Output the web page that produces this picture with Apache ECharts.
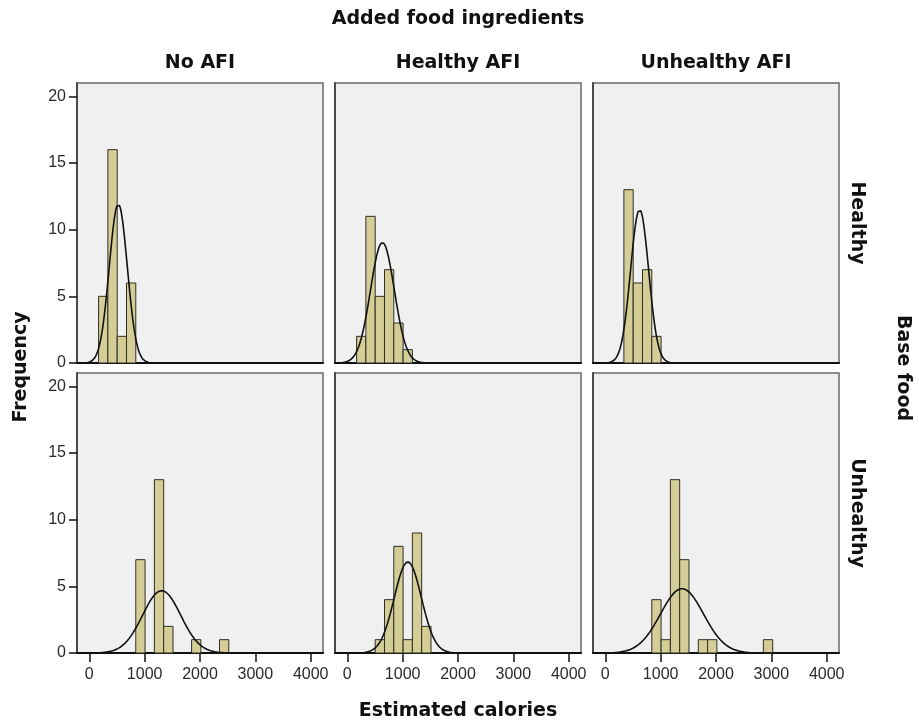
<!DOCTYPE html>
<html><head><meta charset="utf-8">
<script src="https://cdn.jsdelivr.net/npm/echarts@6/dist/echarts.min.js"></script>
<style>html,body{margin:0;padding:0;background:#fff}#c{width:919px;height:727px}</style>
</head><body><div id="c"></div>
<script>
// ---- data ----
const mainTitle = 'Added food ingredients';
const colHeaders = ['No AFI', 'Healthy AFI', 'Unhealthy AFI'];
const rowTitle = 'Base food';
const rowHeaders = ['Healthy', 'Unhealthy'];
const xTitle = 'Estimated calories';
const yTitle = 'Frequency';
const xTickValues = [0, 1000, 2000, 3000, 4000];
const yTickValues = [0, 5, 10, 15, 20];
const binWidth = 168;

// row Healthy base food
const binsHealthyNo = [168, 336, 504, 672];
const countsHealthyNo = [5, 16, 2, 6];
const binsHealthyHealthy = [168, 336, 504, 672, 840, 1008];
const countsHealthyHealthy = [2, 11, 5, 7, 3, 1];
const binsHealthyUnhealthy = [336, 504, 672, 840];
const countsHealthyUnhealthy = [13, 6, 7, 2];
// row Unhealthy base food
const binsUnhealthyNo = [840, 1176, 1344, 1848, 2352];
const countsUnhealthyNo = [7, 13, 2, 1, 1];
const binsUnhealthyHealthy = [504, 672, 840, 1008, 1176, 1344];
const countsUnhealthyHealthy = [1, 4, 8, 1, 9, 2];
const binsUnhealthyUnhealthy = [840, 1008, 1176, 1344, 1680, 1848, 2856];
const countsUnhealthyUnhealthy = [4, 1, 13, 7, 1, 1, 1];

// fitted normal curve parameters (mean, sd) per panel
const curveMeans = [524, 635, 620, 1307, 1094, 1386];
const curveSDs = [163, 215, 163, 344, 245, 389];

// ---- build ----
const panelBins = [binsHealthyNo, binsHealthyHealthy, binsHealthyUnhealthy,
                   binsUnhealthyNo, binsUnhealthyHealthy, binsUnhealthyUnhealthy];
const panelCounts = [countsHealthyNo, countsHealthyHealthy, countsHealthyUnhealthy,
                     countsUnhealthyNo, countsUnhealthyHealthy, countsUnhealthyUnhealthy];

const X_MIN = -222, X_MAX = 4222, Y_MAX = 21;
const colLeft = [77, 335, 593];
const rowTop = [83, 373];
const W = 246, H = 280;

const grids = [], xAxes = [], yAxes = [], series = [];
const tickFont = {fontFamily: '"Liberation Sans", Arial, sans-serif', fontSize: 16, color: '#2a2a2a'};

for (let r = 0; r < 2; r++) {
  for (let c = 0; c < 3; c++) {
    const i = r * 3 + c;
    grids.push({left: colLeft[c], top: rowTop[r], width: W, height: H, show: true,
      backgroundColor: '#f0f0f0', borderColor: '#6a6a6a', borderWidth: 1.5});
    xAxes.push({type: 'value', gridIndex: i, min: X_MIN, max: X_MAX,
      axisLine: {show: true, onZero: false, lineStyle: {color: '#111', width: 2}},
      axisTick: {show: r === 1, length: 9, customValues: xTickValues, lineStyle: {color: '#111', width: 1.5}},
      axisLabel: Object.assign({show: r === 1, margin: 14, customValues: xTickValues,
        formatter: v => String(v)}, tickFont),
      splitLine: {show: false}});
    yAxes.push({type: 'value', gridIndex: i, min: 0, max: Y_MAX,
      axisLine: {show: true, onZero: false, lineStyle: {color: '#4a4a4a', width: 2}},
      axisTick: {show: c === 0, length: 8, customValues: yTickValues, lineStyle: {color: '#111', width: 1.5}},
      axisLabel: Object.assign({show: c === 0, margin: 11, customValues: yTickValues,
        formatter: v => String(v)}, tickFont),
      splitLine: {show: false}});

    const bins = panelBins[i], counts = panelCounts[i];
    const barData = bins.map((b, k) => [b, b + binWidth, counts[k]]);
    series.push({type: 'custom', xAxisIndex: i, yAxisIndex: i, z: 2,
      data: barData, encode: {x: [0, 1], y: 2},
      renderItem: function (params, api) {
        const p0 = api.coord([api.value(0), 0]);
        const p1 = api.coord([api.value(1), api.value(2)]);
        return {type: 'rect',
          shape: {x: p0[0], y: p1[1], width: p1[0] - p0[0], height: p0[1] - p1[1]},
          style: {fill: '#d4cd96', stroke: '#2e2e26', lineWidth: 1}};
      }});

    const n = counts.reduce((a, b) => a + b, 0);
    const mu = curveMeans[i], sd = curveSDs[i];
    const amp = n * binWidth / (sd * Math.sqrt(2 * Math.PI));
    const curve = [];
    for (let x = X_MIN; x <= X_MAX; x += 8) {
      curve.push([x, amp * Math.exp(-0.5 * Math.pow((x - mu) / sd, 2))]);
    }
    series.push({type: 'line', xAxisIndex: i, yAxisIndex: i, z: 3, data: curve,
      showSymbol: false, symbol: 'none', silent: true,
      lineStyle: {color: '#111', width: 1.6}});
  }
}

const titleFont = {fontFamily: '"DejaVu Sans", Verdana, sans-serif', fontWeight: 'bold', fontSize: 19, fill: '#111'};
const graphic = [];
function addText(text, x, y, rotation) {
  graphic.push({type: 'text', x: x, y: y, rotation: rotation || 0,
    style: Object.assign({text: text, textAlign: 'center', textVerticalAlign: 'middle'}, titleFont)});
}
addText(mainTitle, 458, 19);
colHeaders.forEach((t, c) => addText(t, colLeft[c] + W / 2, 63));
rowHeaders.forEach((t, r) => addText(t, 857, rowTop[r] + H / 2, -Math.PI / 2));
addText(rowTitle, 903, 368, -Math.PI / 2);
addText(yTitle, 21, 367, Math.PI / 2);
addText(xTitle, 458, 711);

const chart = echarts.init(document.getElementById('c'), null, {renderer: 'canvas'});
chart.setOption({animation: false, backgroundColor: '#fff', grid: grids, xAxis: xAxes, yAxis: yAxes, series: series, graphic: graphic});
</script></body></html>
